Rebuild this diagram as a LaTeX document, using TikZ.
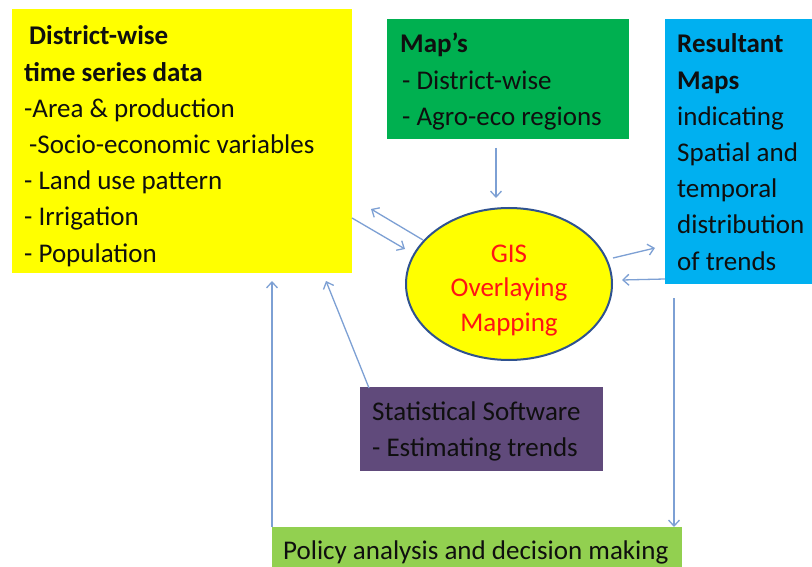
\documentclass[tikz,border=0pt]{standalone}
\usepackage{fontspec}
\setmainfont{Carlito}
\usetikzlibrary{arrows.meta,shapes.geometric}
\definecolor{cyel}{RGB}{255,255,0}
\definecolor{cgreen}{RGB}{0,176,80}
\definecolor{cblue}{RGB}{0,176,240}
\definecolor{cpurple}{RGB}{96,74,123}
\definecolor{clime}{RGB}{146,208,80}
\definecolor{cline}{RGB}{125,160,212}
\definecolor{cedge}{RGB}{47,82,143}
\definecolor{cred}{RGB}{255,20,20}
\definecolor{ctxt}{RGB}{15,15,15}
\newcommand{\bigtxt}{\fontsize{27}{36.2}\selectfont}
\tikzset{
  box/.style={rectangle, draw=none, inner sep=0pt, anchor=north west},
  txt/.style={inner sep=0pt, anchor=base west, text=ctxt, font=\bigtxt},
  conn/.style={draw=cline, line width=1.3pt, -{Straight Barb[length=6pt,width=11pt]}},
}
\begin{document}
\begin{tikzpicture}[x=1pt,y=-1pt]
\useasboundingbox (0,0) rectangle (812,567);
\fill[white] (0,0) rectangle (812,567);
% boxes
\node[box, fill=cyel, minimum width=340pt, minimum height=264pt] (data) at (12,9) {};
\node[box, fill=cgreen, minimum width=242pt, minimum height=120pt] (maps) at (387,19) {};
\node[box, fill=cblue, minimum width=160pt, minimum height=265pt] (res) at (665,19) {};
\node[box, fill=cpurple, minimum width=243pt, minimum height=84pt] (stat) at (360,387) {};
\node[box, fill=clime, minimum width=410pt, minimum height=60pt] (policy) at (272,527) {};
\node[ellipse, fill=cyel, draw=cedge, line width=2pt, minimum width=206pt, minimum height=152pt,
      inner sep=0pt, align=center, text=cred, font=\fontsize{27}{34.5}\selectfont] (gis) at (509,284)
      {\rule{0pt}{30pt}GIS\\Overlaying\\Mapping};
% texts
\node[txt] (datatxt) at (24,45) {\parbox[t]{330pt}{\raggedright
  \hspace*{5pt}\textbf{District-wise}\\
  \textbf{time series data}\\
  -Area \& production\\
  \hspace*{5pt}-Socio-economic variables\\
  - Land use pattern\\
  - Irrigation\\
  - Population}};
\node[txt] (mapstxt) at (400,53) {\parbox[t]{230pt}{\raggedright
  \textbf{Map’s}\\
  \hspace*{2pt}- District-wise\\
  \hspace*{2pt}- Agro-eco regions}};
\node[txt] (restxt) at (677,53) {\parbox[t]{140pt}{\raggedright
  \textbf{Resultant}\\
  \textbf{Maps}\\
  indicating\\
  Spatial and\\
  temporal\\
  distribution\\
  of trends}};
\node[txt] (stattxt) at (372,420) {\parbox[t]{230pt}{\raggedright
  Statistical Software\\
  - Estimating trends}};
\node[txt] (policytxt) at (283,559) {Policy analysis and decision making};
% connector end points
\coordinate (m1) at (496,148);
\coordinate (m2) at (496,198);
\coordinate (d1) at (352,218);
\coordinate (d2) at (405,249);
\coordinate (g1) at (423,240);
\coordinate (g2) at (371,209);
\coordinate (r1) at (613,258);
\coordinate (r2) at (655,248);
\coordinate (r3) at (665,279);
\coordinate (r4) at (622,280);
\coordinate (v1) at (674,298);
\coordinate (v2) at (674,527);
\coordinate (p1) at (272,527);
\coordinate (p2) at (272,281);
\coordinate (s1) at (369,388);
\coordinate (s2) at (326,281);
% connectors
\draw[conn] (m1) -- (m2);
\draw[conn] (d1) -- (d2);
\draw[conn] (g1) -- (g2);
\draw[conn] (r1) -- (r2);
\draw[conn] (r3) -- (r4);
\draw[conn] (v1) -- (v2);
\draw[conn] (p1) -- (p2);
\draw[conn] (s1) -- (s2);
\end{tikzpicture}
\end{document}
